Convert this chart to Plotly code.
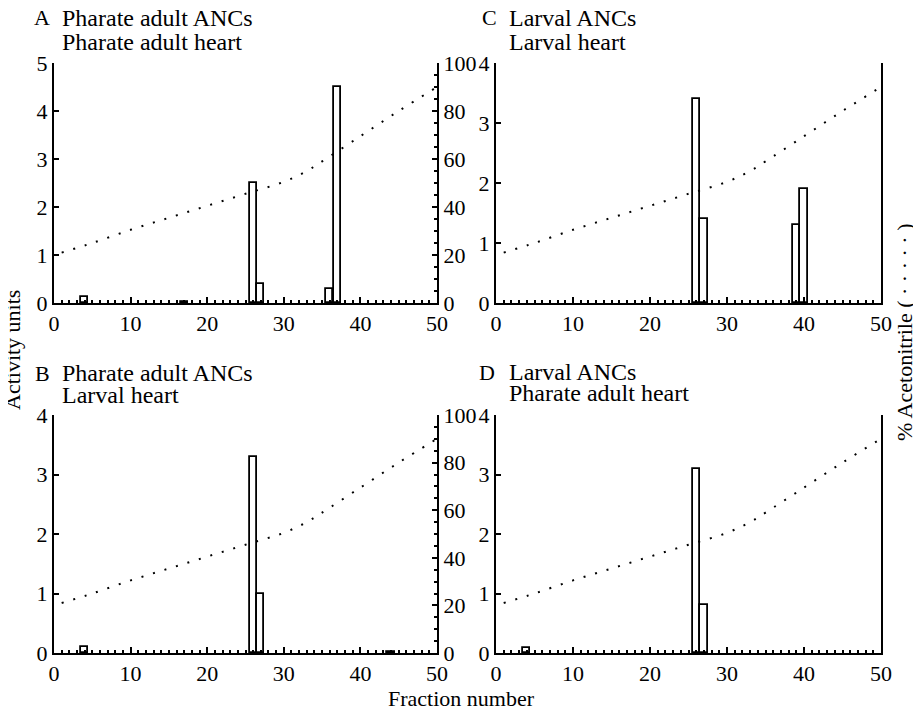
import plotly.graph_objects as go

# page body has an 8px default margin, so the figure is sized to the visible area
OFF = 8
W, H = 921 - OFF, 709 - OFF
FONT = "Liberation Serif"

# ---- data ----
grad_fraction = [1, 5, 10, 15, 20, 25, 30, 33, 35, 40, 45, 50]
grad_percent = [21, 25, 30.5, 35.5, 40.5, 45.5, 50.5, 55, 59, 69.5, 80, 90]

a_fraction = [4, 17, 26, 27, 36, 37]
a_activity = [0.12, 0.03, 2.5, 0.4, 0.3, 4.5]

b_fraction = [4, 26, 27, 44]
b_activity = [0.1, 3.3, 1.0, 0.01]

c_fraction = [26, 27, 39, 40]
c_activity = [3.4, 1.4, 1.3, 1.9]

d_fraction = [4, 26, 27]
d_activity = [0.08, 3.1, 0.8]

panel_letters = ["A", "C", "B", "D"]
panel_line1 = ["Pharate adult ANCs", "Larval ANCs", "Pharate adult ANCs", "Larval ANCs"]
panel_line2 = ["Pharate adult heart", "Larval heart", "Larval heart", "Pharate adult heart"]
ymax = [5, 4, 4, 4]
x_ticks = [0, 10, 20, 30, 40, 50]
pct_ticks = [0, 20, 40, 60, 80, 100]

# ---- layout geometry (screen pixels) ----
px_x = [(54, 437), (496, 881), (54, 437), (496, 881)]
px_y = [(303, 63), (303, 63), (653, 415), (653, 415)]
letter_x = [32, 480, 33, 477]
title_x = [60, 507, 60, 507]
line1_y = [18, 18, 373, 372]
line2_y = [42, 42, 395, 393]
show_pct_labels = [True, False, True, False]


def fx_(px):
    return (px - OFF) / W


def fy_(py):
    return 1 - (py - OFF) / H


bars = [(a_fraction, a_activity), (c_fraction, c_activity),
        (b_fraction, b_activity), (d_fraction, d_activity)]

fig = go.Figure()
layout = dict(
    width=W, height=H, margin=dict(l=0, r=0, t=0, b=0, autoexpand=False),
    paper_bgcolor="white", plot_bgcolor="white",
    showlegend=False, bargap=0,
    font=dict(family=FONT, size=20, color="black"),
)
annotations = []
TF = dict(family=FONT, size=22, color="black")

for i in range(4):
    n = i + 1
    xs = "" if n == 1 else str(n)
    ys = "" if n == 1 else str(n)
    y2n = str(n + 4)
    xname, yname, y2name = "x" + xs, "y" + ys, "y" + y2n
    x0, x1 = px_x[i]
    yb, yt = px_y[i]
    bx, by = bars[i]
    fig.add_trace(go.Bar(
        x=bx, y=by, width=0.95, xaxis=xname, yaxis=yname,
        marker=dict(color="white", line=dict(color="black", width=1.8)),
    ))
    fig.add_trace(go.Scatter(
        x=grad_fraction, y=grad_percent, mode="lines", xaxis=xname, yaxis=y2name,
        line=dict(color="black", width=2, dash="2px,10px", shape="spline"),
    ))
    layout["xaxis" + xs] = dict(
        domain=[fx_(x0), fx_(x1)], anchor=yname, range=[0, 50], automargin=False,
        tickvals=x_ticks, ticks="inside", ticklen=6, tickwidth=1.5, tickcolor="black",
        showline=True, linecolor="black", linewidth=2, showgrid=False, zeroline=False,
        minor=dict(dtick=1, ticks="inside", ticklen=3, tickwidth=2, tickcolor="black"),
        tickfont=TF, fixedrange=True,
    )
    layout["yaxis" + ys] = dict(
        domain=[fy_(yb), fy_(yt)], anchor=xname, range=[0, ymax[i]], automargin=False,
        dtick=1, ticks="inside", ticklen=5, tickwidth=1.5, tickcolor="black",
        showline=True, linecolor="black", linewidth=2, showgrid=False, zeroline=False,
        tickfont=TF, fixedrange=True,
    )
    y2 = dict(
        overlaying=yname, anchor=xname, side="right", range=[0, 100], automargin=False,
        showline=True, linecolor="black", linewidth=2, showgrid=False, zeroline=False,
        fixedrange=True,
    )
    if show_pct_labels[i]:
        y2.update(tickvals=pct_ticks, ticks="inside", ticklen=5, tickwidth=1.5,
                  tickcolor="black",
                  minor=dict(dtick=5, ticks="inside", ticklen=3, tickwidth=1.5,
                             tickcolor="black"),
                  tickfont=TF)
    else:
        y2.update(showticklabels=False, ticks="")
    layout["yaxis" + y2n] = y2

    annotations.append(dict(text=panel_letters[i], x=fx_(letter_x[i]), y=fy_(line1_y[i]),
                            xref="paper", yref="paper", xanchor="left", yanchor="middle",
                            showarrow=False, font=dict(family=FONT, size=22)))
    annotations.append(dict(text=panel_line1[i], x=fx_(title_x[i]), y=fy_(line1_y[i]),
                            xref="paper", yref="paper", xanchor="left", yanchor="middle",
                            showarrow=False, font=dict(family=FONT, size=24)))
    annotations.append(dict(text=panel_line2[i], x=fx_(title_x[i]), y=fy_(line2_y[i]),
                            xref="paper", yref="paper", xanchor="left", yanchor="middle",
                            showarrow=False, font=dict(family=FONT, size=24)))

annotations.append(dict(text="Activity units", x=fx_(12), y=fy_(350), xref="paper", yref="paper",
                        xanchor="center", yanchor="middle", textangle=-90, showarrow=False,
                        font=dict(family=FONT, size=22)))
annotations.append(dict(text="% Acetonitrile ( · · · · · )", x=fx_(904), y=fy_(333),
                        xref="paper", yref="paper", xanchor="center", yanchor="middle",
                        textangle=-90, showarrow=False, font=dict(family=FONT, size=22)))
annotations.append(dict(text="Fraction number", x=fx_(461), y=fy_(698), xref="paper",
                        yref="paper", xanchor="center", yanchor="middle", showarrow=False,
                        font=dict(family=FONT, size=22)))
layout["annotations"] = annotations

fig.update_layout(**layout)
fig.write_html("out.html")
